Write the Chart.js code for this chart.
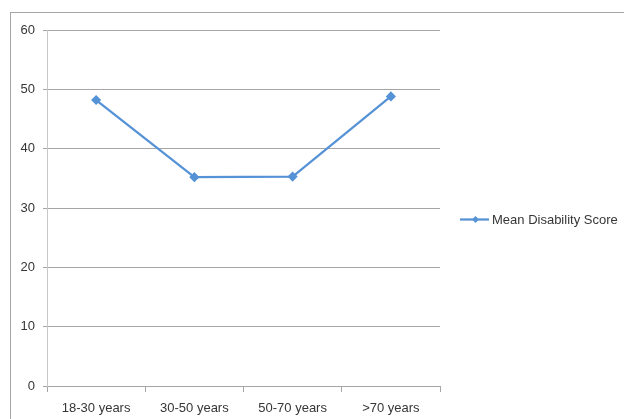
<!DOCTYPE html>
<html>
<head>
<meta charset="utf-8">
<script src="https://cdn.jsdelivr.net/npm/chart.js@4/dist/chart.umd.min.js"></script>
<style>
  html, body { margin: 0; padding: 0; background: #fff; overflow: hidden; }
  #wrap { position: relative; width: 624px; height: 419px; }
  #frame { position: absolute; left: 10px; top: 12px; width: 700px; height: 500px; border: 1px solid #a6a6a6; box-sizing: border-box; }
  #c { position: absolute; left: 0; top: 0; }
</style>
</head>
<body>
<div id="wrap">
  <div id="frame"></div>
  <canvas id="c" width="624" height="419"></canvas>
</div>
<script>
const categories = ['18-30 years', '30-50 years', '50-70 years', '>70 years'];
const meanDisabilityScore = [48.2, 35.2, 35.3, 48.8];
const seriesLabel = 'Mean Disability Score';
const yTicks = [0, 10, 20, 30, 40, 50, 60];

const FONT = "'Liberation Sans', Arial, sans-serif";
const BLUE = '#5592d6';
const TEXT = '#363636';

// Legend drawn Excel-style: a short line with a diamond marker, then the label
const sideLegend = {
  id: 'sideLegend',
  afterDraw(chart) {
    const ctx = chart.ctx;
    const area = chart.chartArea;
    const ds = chart.data.datasets[0];
    const y = 219.5;
    const x0 = area.right + 20, x1 = area.right + 49;
    ctx.save();
    ctx.strokeStyle = ds.borderColor;
    ctx.lineWidth = 2.25;
    ctx.beginPath();
    ctx.moveTo(x0, y);
    ctx.lineTo(x1, y);
    ctx.stroke();
    const mx = (x0 + x1) / 2 + 1, r = 3.5;
    ctx.fillStyle = ds.borderColor;
    ctx.beginPath();
    ctx.moveTo(mx, y - r);
    ctx.lineTo(mx + r, y);
    ctx.lineTo(mx, y + r);
    ctx.lineTo(mx - r, y);
    ctx.closePath();
    ctx.fill();
    ctx.fillStyle = TEXT;
    ctx.font = '13px ' + FONT;
    ctx.textBaseline = 'middle';
    ctx.textAlign = 'left';
    ctx.fillText(ds.label, area.right + 52, y + 0.5);
    ctx.restore();
  }
};

new Chart(document.getElementById('c'), {
  type: 'line',
  data: {
    labels: categories,
    datasets: [{
      label: seriesLabel,
      data: meanDisabilityScore,
      borderColor: BLUE,
      backgroundColor: BLUE,
      borderWidth: 2.25,
      pointStyle: 'rectRot',
      pointRadius: 3.5,
      pointHoverRadius: 3.5,
      tension: 0,
      fill: false
    }]
  },
  options: {
    responsive: false,
    animation: false,
    layout: { padding: { left: 0, top: 30, right: 184, bottom: 0 } },
    plugins: { legend: { display: false }, tooltip: { enabled: false } },
    scales: {
      x: {
        type: 'category',
        offset: true,
        grid: { offset: true, drawOnChartArea: false, drawTicks: true, tickLength: 6, color: '#a6a6a6' },
        border: { display: true, color: '#a6a6a6' },
        ticks: { color: TEXT, font: { family: FONT, size: 13 }, padding: 9, maxRotation: 0 },
        afterFit(scale) { scale.height = 33; }
      },
      y: {
        min: 0,
        max: 60,
        afterBuildTicks(scale) { scale.ticks = yTicks.map(v => ({ value: v })); },
        grid: { color: '#a6a6a6', drawTicks: true, tickLength: 4 },
        border: { display: true, color: '#c8c8c8' },
        ticks: { color: TEXT, font: { family: FONT, size: 13 }, padding: 8 },
        afterFit(scale) { scale.width = 47; }
      }
    }
  },
  plugins: [sideLegend]
});
</script>
</body>
</html>
